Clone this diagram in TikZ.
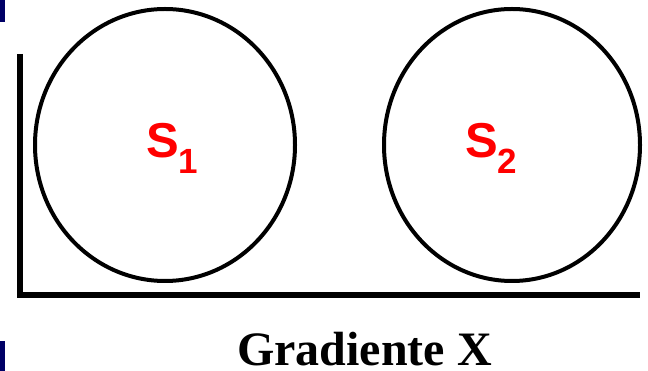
\documentclass[tikz,border=0pt]{standalone}
\usepackage{fontspec}
\setmainfont{Liberation Serif}
\newfontfamily\arialf{Liberation Sans}
\definecolor{navyb}{HTML}{000066}
\begin{document}
\begin{tikzpicture}[x=1pt,y=-1pt,
  ring/.style={draw=black,line width=4pt},
  axis/.style={draw=black,line width=6pt},
  lab/.style={text=red,font=\arialf\bfseries\fontsize{49}{49}\selectfont,inner sep=0pt}]
\useasboundingbox (0,0) rectangle (648,371);
\fill[navyb] (0,0) rectangle (5,22);
\fill[navyb] (0,341) rectangle (5,371);
\draw[axis] (20,54) -- (20,295.5) -- (640,295.5);
\draw[ring] (165,145) ellipse [x radius=130,y radius=136];
\draw[ring] (512,145) ellipse [x radius=128,y radius=136];
\node[lab,anchor=base west] (s1) at (146,158) {S\textsubscript{\fontsize{35}{35}\selectfont 1}};
\node[lab,anchor=base west] (s2) at (465,158) {S\textsubscript{\fontsize{35}{35}\selectfont 2}};
\node[anchor=base,inner sep=0pt,font=\bfseries\fontsize{48}{48}\selectfont] (gx) at (364.5,366) {Gradiente X};
\end{tikzpicture}
\end{document}
